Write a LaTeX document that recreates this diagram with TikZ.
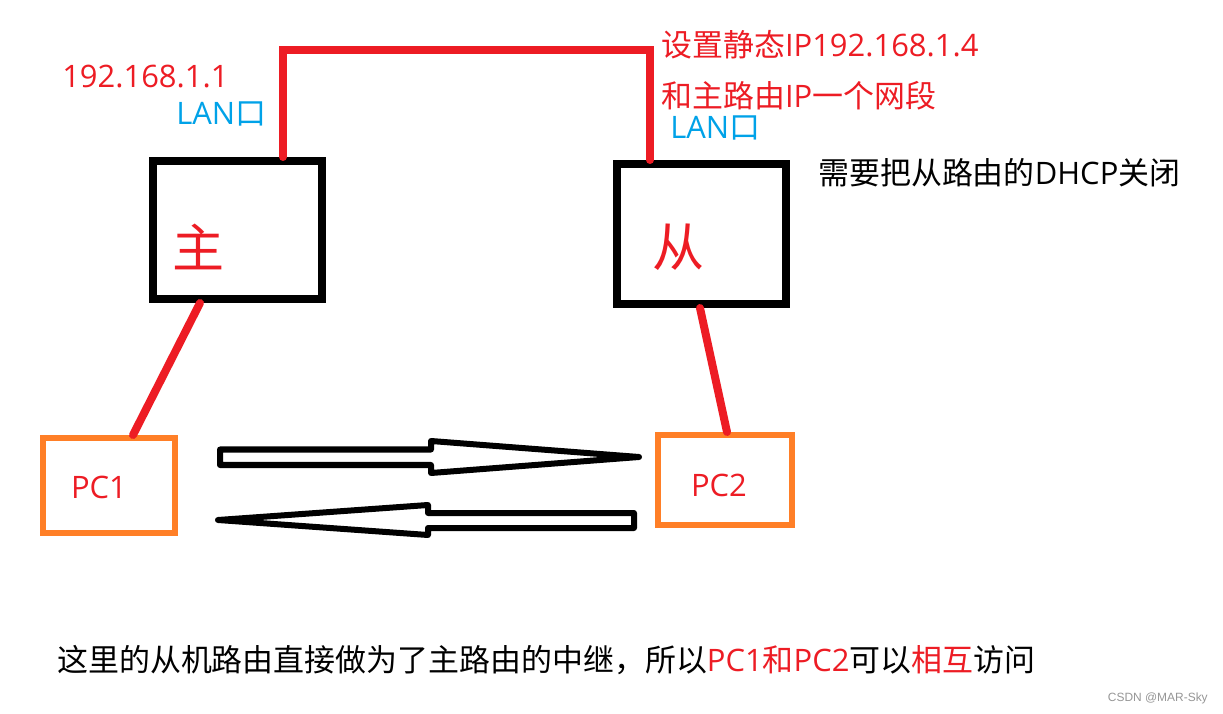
\documentclass[tikz,border=0pt]{standalone}
\usepackage{fontspec}
\setmainfont{Open Sans}
\newfontfamily\cjk{Noto Sans CJK SC}
\newfontfamily\markfont{Liberation Sans}
\definecolor{wirered}{RGB}{237,28,36}
\definecolor{lanblue}{RGB}{0,162,232}
\definecolor{pcorange}{RGB}{255,127,39}
\definecolor{markgray}{RGB}{150,150,150}
\newcommand{\notesize}{\fontsize{22}{26}\selectfont}
\newcommand{\bigsize}{\fontsize{37}{40}\selectfont}

\begin{document}
\begin{tikzpicture}[
    x=0.025cm, y=-0.025cm,
    router/.style={rectangle, draw=black, line width=0.2cm, inner sep=0pt,
                   minimum width=4.225cm, minimum height=3.45cm},
    pcbox/.style={rectangle, draw=pcorange, line width=0.15cm, inner sep=0pt},
    pctext/.style={font=\fontsize{22}{26}\selectfont, text=wirered, inner sep=0pt},
    wire/.style={draw=wirered, line width=0.2cm, line cap=round},
    hollow/.style={draw=black, fill=white, line width=0.15cm, line join=round},
    note/.style={font=\notesize, inner sep=0pt, anchor=west}
  ]
    \useasboundingbox[fill=white] (0,0) rectangle (1223,714);

    % Routers
    \node[router] (zhu) at (237.5,230) {};
    \node[router, minimum height=3.5cm] (cong) at (701.5,234) {};
    \node[font=\cjk\bigsize, text=wirered, inner sep=0pt] (zhulabel) at (199,247) {主};
    \node[font=\cjk\bigsize, text=wirered, inner sep=0pt] (conglabel) at (679,247) {从};

    % PCs
    \node[pcbox, minimum width=3.3cm, minimum height=2.375cm] (pc1) at (109,485.5) {};
    \node[pcbox, minimum width=3.35cm, minimum height=2.25cm] (pc2) at (725,480) {};
    \node[pctext] (pc1label) at (99,487) {PC1};
    \node[pctext] (pc2label) at (719,485) {PC2};

    % Cables
    \coordinate (cable) at (466,50);
    \draw[wire] ([xshift=1.1375cm]zhu.north) |- (cable) -| ([xshift=-1.2875cm]cong.north);
    \draw[wire] ([xshift=-0.9375cm]zhu.south) -- ([xshift=0.6cm]pc1.north);
    \draw[wire] ([xshift=-0.0375cm]cong.south) -- ([xshift=0.05cm]pc2.north);

    % Traffic both ways
    \draw[hollow] (220,449.5) -- (431,449.5) -- (431,441) -- (639,457)
      -- (431,473) -- (431,465) -- (220,465) -- cycle;
    \draw[hollow] (634,513) -- (428,513) -- (428,505) -- (218,520)
      -- (428,535) -- (428,528) -- (634,528) -- cycle;

    % Notes
    \node[note, text=wirered] (ipzhu) at (62,77) {192.168.1.1};
    \node[note, text=lanblue] (lanzhu) at (176,114) {LAN{\cjk 口}};
    \node[note, text=wirered] (ipcong) at (661,45) {{\cjk 设置静态}IP192.168.1.4};
    \node[note, text=wirered] (segment) at (661,96) {{\cjk 和主路由}IP{\cjk 一个网段}};
    \node[note, text=lanblue] (lancong) at (670,128) {LAN{\cjk 口}};
    \node[note] (dhcp) at (818,173) {{\cjk 需要把从路由的}DHCP{\cjk 关闭}};
    \node[note] (relay) at (57,660)
      {{\cjk 这里的从机路由直接做为了主路由的中继，所以}\textcolor{wirered}{PC1{\cjk 和}PC2}{\cjk 可以\textcolor{wirered}{相互}访问}};

    % Watermark
    \node[font=\markfont\fontsize{8.5}{10}\selectfont, text=markgray, inner sep=0pt, anchor=east]
      (mark) at (1208,698) {CSDN @MAR-Sky};
  \end{tikzpicture}
\end{document}
